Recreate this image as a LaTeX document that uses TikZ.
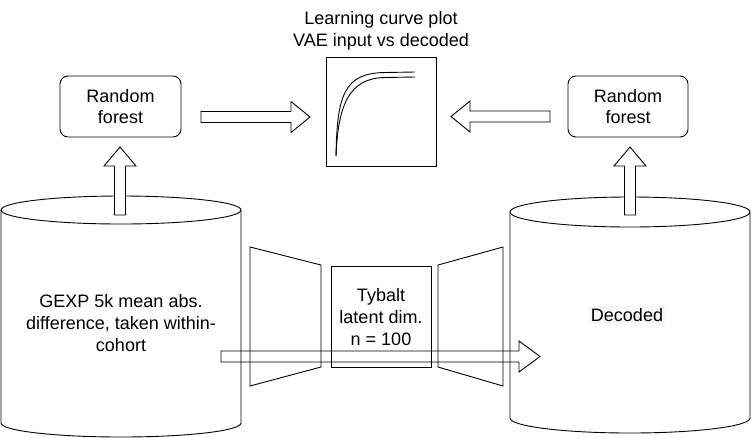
\documentclass[tikz,border=0pt]{standalone}
\usepackage{fontspec}
\setmainfont{Liberation Sans}
\usetikzlibrary{calc}
\tikzset{
  base/.style={line width=0.9pt, draw=black},
  rfbox/.style={base, rounded corners=8pt, minimum width=121pt, minimum height=61pt, align=center, inner sep=0pt},
  sqbox/.style={base, align=center, inner sep=0pt},
  txt/.style={align=center, inner sep=0pt},
  fatarrow/.style={base, fill=white, line join=miter},
}
% horizontal block arrow from #2 to #3, head length #4 (signed), style #1
\newcommand\hfat[4][]{\draw[fatarrow,#1] ($(#2)+(0,5.5)$) -- ($(#3)+(#4,5.5)$) -- ($(#3)+(#4,15.5)$) -- (#3) -- ($(#3)+(#4,-15.5)$) -- ($(#3)+(#4,-5.5)$) -- ($(#2)+(0,-5.5)$) -- cycle;}
% vertical block arrow
\newcommand\vfat[4][]{\draw[fatarrow,#1] ($(#2)+(-5.5,0)$) -- ($(#3)+(-5.5,#4)$) -- ($(#3)+(-16,#4)$) -- (#3) -- ($(#3)+(16,#4)$) -- ($(#3)+(5.5,#4)$) -- ($(#2)+(5.5,0)$) -- cycle;}
\begin{document}
\begin{tikzpicture}[x=1pt,y=-1pt, every node/.style={font=\fontsize{18}{21.6}\selectfont}]
\useasboundingbox (0,0) rectangle (751,437);

% left cylinder
\draw[base] (1,210) -- (1,423) arc[start angle=180, end angle=360, x radius=120pt, y radius=14pt] -- (241,210);
\draw[base] (121,210) ellipse[x radius=120pt, y radius=14pt];
\node[txt] (gexp) at (121,323) {GEXP 5k mean abs.\\difference, taken within-\\cohort};

% right cylinder
\draw[base] (510,212) -- (510,418) arc[start angle=180, end angle=360, x radius=120pt, y radius=15pt] -- (750,212);
\draw[base] (630,212) ellipse[x radius=120pt, y radius=15pt];
\node[txt, fill=black!3, inner sep=2pt] (dec) at (627,315) {Decoded};

% random forest boxes
\node[rfbox] (rf1) at (120.5,106.5) {Random\\forest};
\node[rfbox, minimum width=120pt] (rf2) at (628,106.5) {Random\\forest};

% plot box
\node[sqbox, minimum width=110pt, minimum height=109pt] (plot) at (381,111.5) {};
\node[txt] (title) at (381,31) {Learning curve plot\\VAE input vs decoded};
\draw[base] (336,156) .. controls (337,95) and (344,73) .. (385,72.5) -- (415,72);
\draw[base] (336,156) .. controls (338,105) and (349,78) .. (385,77.5) -- (415,77);

% autoencoder
\draw[base] (250,247) -- (321,265) -- (321,367) -- (250,386) -- cycle;
\draw[base] (438,265) -- (503,247) -- (503,386) -- (438,367) -- cycle;
\node[sqbox, minimum width=100pt, minimum height=101pt] (lat) at (381,316.5) {};
\node[txt] (lattxt) at (381,317) {Tybalt\\latent dim.\\n = 100};

% arrow end points
\coordinate (a1s) at (120,215); \coordinate (a1e) at (120,147);
\coordinate (a2s) at (630,215); \coordinate (a2e) at (630,147);
\coordinate (a3s) at (201,117); \coordinate (a3e) at (310,117);
\coordinate (a4s) at (550,116.5); \coordinate (a4e) at (451,116.5);
\coordinate (a5s) at (221,356.5); \coordinate (a5e) at (540,356.5);

\vfat{a1s}{a1e}{19}
\vfat{a2s}{a2e}{19}
\hfat{a3s}{a3e}{-19}
\hfat{a4s}{a4e}{19}
\hfat[fill=none]{a5s}{a5e}{-21}
\end{tikzpicture}
\end{document}
